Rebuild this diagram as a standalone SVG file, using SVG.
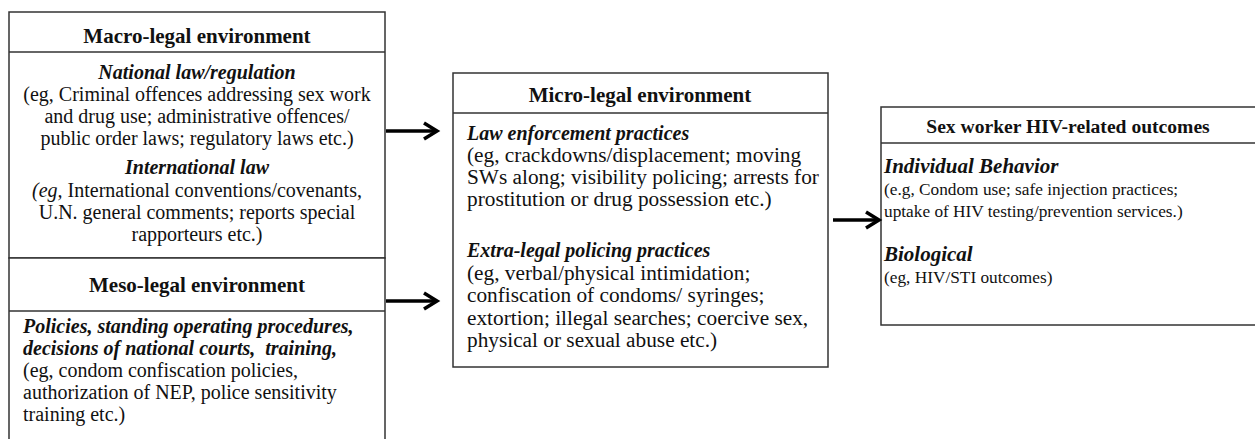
<svg xmlns="http://www.w3.org/2000/svg" width="1255" height="439" viewBox="0 0 1255 439">
<style>
.box{fill:#fff;stroke:#333;stroke-width:1.5}
.div{stroke:#333;stroke-width:1.5}
text{font-family:"Liberation Serif","Times New Roman",serif;fill:#111}
.h{font-weight:bold;font-size:21px;text-anchor:middle}
.h2{font-weight:bold;font-size:19.6px;text-anchor:middle}
.b{font-size:20px}
.m{font-size:21.3px}
.c{text-anchor:middle}
.bi{font-weight:bold;font-style:italic}
.s{font-size:17.3px}
.si{font-size:21px;font-weight:bold;font-style:italic}
.arr{stroke:#000;stroke-width:3.5;fill:none}
</style>
<rect width="1255" height="439" fill="#fff"/>
<g id="macro">
<rect class="box" x="9" y="12" width="376" height="246"/>
<line class="div" x1="9" y1="52" x2="385" y2="52"/>
<text class="h" x="197" y="43">Macro-legal environment</text>
<text class="b c" x="197" y="79"><tspan class="bi">National law/regulation</tspan></text>
<text class="b c" x="197" y="101">(eg, Criminal offences addressing sex work</text>
<text class="b c" x="197" y="123">and drug use; administrative offences/</text>
<text class="b c" x="197" y="145">public order laws; regulatory laws etc.)</text>
<text class="b c" x="197" y="174"><tspan class="bi">International law</tspan></text>
<text class="b c" x="197" y="197"><tspan font-style="italic">(eg,</tspan> International conventions/covenants,</text>
<text class="b c" x="197" y="219">U.N. general comments; reports special</text>
<text class="b c" x="197" y="241">rapporteurs etc.)</text>
</g>
<g id="meso">
<rect class="box" x="9" y="258" width="376" height="200"/>
<line class="div" x1="9" y1="311" x2="385" y2="311"/>
<text class="h" x="197" y="292">Meso-legal environment</text>
<text class="b bi" x="23" y="333">Policies, standing operating procedures,</text>
<text class="b bi" x="23" y="355" xml:space="preserve">decisions of national courts,  training,</text>
<text class="b" x="23" y="377">(eg, condom confiscation policies,</text>
<text class="b" x="23" y="399">authorization of NEP, police sensitivity</text>
<text class="b" x="23" y="421">training etc.)</text>
</g>
<g id="micro">
<rect class="box" x="453" y="73" width="375" height="294"/>
<line class="div" x1="453" y1="113" x2="828" y2="113"/>
<text class="h" x="640" y="102">Micro-legal environment</text>
<text class="b bi" x="467" y="140">Law enforcement practices</text>
<text class="m" x="467" y="162">(eg, crackdowns/displacement; moving</text>
<text class="m" x="467" y="184">SWs along; visibility policing; arrests for</text>
<text class="m" x="467" y="206">prostitution or drug possession etc.)</text>
<text class="b bi" x="467" y="257">Extra-legal policing practices</text>
<text class="m" x="467" y="280">(eg, verbal/physical intimidation;</text>
<text class="m" x="467" y="302">confiscation of condoms/ syringes;</text>
<text class="m" x="467" y="325">extortion; illegal searches; coercive sex,</text>
<text class="m" x="467" y="347">physical or sexual abuse etc.)</text>
</g>
<g id="outcomes">
<rect class="box" x="881" y="107" width="390" height="218"/>
<line class="div" x1="881" y1="143" x2="1260" y2="143"/>
<text class="h2" x="1068" y="133">Sex worker HIV-related outcomes</text>
<text class="si" x="884" y="173">Individual Behavior</text>
<text class="s" x="884" y="195">(e.g, Condom use; safe injection practices;</text>
<text class="s" x="884" y="217">uptake of HIV testing/prevention services.)</text>
<text class="si" x="884" y="261">Biological</text>
<text class="s" x="884" y="283">(eg, HIV/STI outcomes)</text>
</g>
<g id="connectors">
<line class="arr" x1="386" y1="131" x2="437" y2="131"/>
<polyline class="arr" points="424,123 437,131 424,139"/>
<line class="arr" x1="386" y1="301" x2="437" y2="301"/>
<polyline class="arr" points="424,293 437,301 424,309"/>
<line class="arr" x1="833" y1="220" x2="878" y2="220"/>
<polyline class="arr" points="866,212 879,220 866,228"/>
</g>
</svg>
